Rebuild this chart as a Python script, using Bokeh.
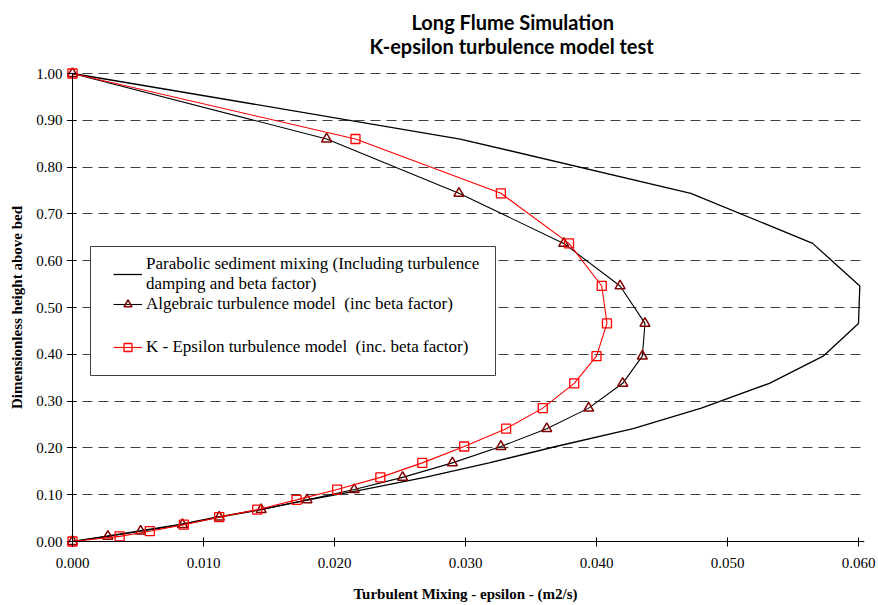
import numpy as np
from bokeh.plotting import figure
from bokeh.models import (Range1d, SingleIntervalTicker, NumeralTickFormatter,
                          Legend, LegendItem, BoxAnnotation, LinearAxis, Title)
from bokeh.embed import file_html
from bokeh.resources import INLINE

# ---------------- data ----------------
height_levels = [0.000, 0.011, 0.022, 0.036, 0.052, 0.068, 0.089, 0.111, 0.137, 0.168,
                 0.203, 0.241, 0.285, 0.338, 0.396, 0.466, 0.546, 0.637, 0.744, 0.860, 1.000]
parabolic_eps = [0.0000, 0.0025, 0.0050, 0.0081, 0.0110, 0.0143, 0.0180, 0.0222, 0.0269, 0.0318,
                 0.0369, 0.0428, 0.0480, 0.0532, 0.0573, 0.0600, 0.0601, 0.0565, 0.0472, 0.0296, 0.0000]
algebraic_eps = [0.0000, 0.0027, 0.0052, 0.0084, 0.0112, 0.0144, 0.0179, 0.0215, 0.0252, 0.0290,
                 0.0327, 0.0362, 0.0394, 0.0420, 0.0435, 0.0437, 0.0418, 0.0375, 0.0295, 0.0194, 0.0000]
kepsilon_eps = [0.0000, 0.0036, 0.0059, 0.0085, 0.0112, 0.0141, 0.0171, 0.0202, 0.0235, 0.0267,
                0.0299, 0.0331, 0.0359, 0.0383, 0.0400, 0.0408, 0.0404, 0.0379, 0.0327, 0.0216, 0.0000]

series_names = ["Parabolic sediment mixing (Including turbulence\ndamping and beta factor)",
                "Algebraic turbulence model  (inc beta factor)",
                "K - Epsilon turbulence model  (inc. beta factor)"]
title_lines = ["Long Flume Simulation", "K-epsilon turbulence model test"]
x_title = "Turbulent Mixing - epsilon - (m2/s)"
y_title = "Dimensionless height above bed"
x_max, y_max = 0.06, 1.0
x_step, y_step = 0.01, 0.1

# ---------------- layout ----------------
W, H = 878, 605
FL, FR, FT, FB = 66, 864, 67, 547          # frame edges (px)
X0, X1 = 72, 858                            # px of x=0 and x=x_max
Y1, Y0 = 73, 541                            # px of y=y_max and y=0
xs = x_max / (X1 - X0)
ys = y_max / (Y0 - Y1)
x_range = Range1d(-(X0 - FL) * xs, x_max + (FR - X1) * xs)
y_range = Range1d(-(FB - Y0) * ys, y_max + (Y1 - FT) * ys)

p = figure(width=W, height=H, x_range=x_range, y_range=y_range,
           output_backend="svg", toolbar_location=None,
           min_border_left=FL, min_border_right=W - FR,
           min_border_top=FT, min_border_bottom=H - FB)
p.outline_line_color = None
p.background_fill_color = "white"
p.border_fill_color = "white"

x_ticker = SingleIntervalTicker(interval=x_step, num_minor_ticks=0)
y_ticker = SingleIntervalTicker(interval=y_step, num_minor_ticks=0)

# axis lines + ticks crossing at zero
for ax in (p.xaxis, p.yaxis):
    ax.fixed_location = 0
    ax.axis_line_color = "black"
    ax.axis_line_width = 1
    ax.major_tick_line_color = "black"
    ax.major_tick_in = 4
    ax.major_tick_out = 5
    ax.minor_tick_line_color = None
    ax.major_label_text_font_size = "1px"
    ax.major_label_text_alpha = 0
    ax.major_label_standoff = 0
p.xaxis.ticker = x_ticker
p.yaxis.ticker = y_ticker
p.xaxis.bounds = (0, x_range.end)
p.yaxis.bounds = (0, y_max)

# axes carrying the tick labels and axis titles
lab_font = "Liberation Serif"
x_lab = LinearAxis(ticker=x_ticker, formatter=NumeralTickFormatter(format="0.000"),
                   axis_line_color=None, major_tick_line_color=None,
                   minor_tick_line_color=None, major_tick_in=0, major_tick_out=0,
                   major_label_standoff=10, major_label_text_font=lab_font,
                   major_label_text_font_size="15px", major_label_text_color="black",
                   axis_label=x_title, axis_label_standoff=15,
                   axis_label_text_font=lab_font, axis_label_text_font_style="bold",
                   axis_label_text_font_size="15px", axis_label_text_color="black")
y_lab = LinearAxis(ticker=y_ticker, formatter=NumeralTickFormatter(format="0.00"),
                   axis_line_color=None, major_tick_line_color=None,
                   minor_tick_line_color=None, major_tick_in=0, major_tick_out=0,
                   major_label_standoff=4, major_label_text_font=lab_font,
                   major_label_text_font_size="15px", major_label_text_color="black",
                   axis_label=y_title, axis_label_standoff=8,
                   axis_label_text_font=lab_font, axis_label_text_font_style="bold",
                   axis_label_text_font_size="15px", axis_label_text_color="black")
p.add_layout(x_lab, "below")
p.add_layout(y_lab, "left")

# grid
p.xgrid.visible = False
p.ygrid.grid_line_color = "#404040"
p.ygrid.grid_line_dash = "10 6"
p.ygrid.grid_line_width = 1

# titles (second line is nearest the frame)
t2 = Title(text=title_lines[1], align="left", offset=303, vertical_align="middle",
           standoff=18, text_font="Lato", text_font_style="bold",
           text_font_size="20px", text_color="black")
t1 = Title(text=title_lines[0], align="left", offset=345, vertical_align="middle",
           standoff=-22, text_font="Lato", text_font_style="bold",
           text_font_size="20px", text_color="black")
p.add_layout(t2, "above")
p.add_layout(t1, "above")

# series
r_par = p.line(parabolic_eps, height_levels, line_color="black", line_width=1.3)
r_alg_l = p.line(algebraic_eps, height_levels, line_color="black", line_width=1.1)
r_alg_m = p.scatter(algebraic_eps, height_levels, marker="triangle", size=10,
                    line_color="#800000", fill_color=None, line_width=1.5)
r_ke_l = p.line(kepsilon_eps, height_levels, line_color="#FF0000", line_width=1.1)
r_ke_m = p.scatter(kepsilon_eps, height_levels, marker="square", size=9,
                   line_color="#FF0000", fill_color=None, line_width=1.3)

# legend box
box = BoxAnnotation(left=90 - FL, right=495 - FL, top=FB - 246, bottom=FB - 375,
                    left_units="screen", right_units="screen",
                    top_units="screen", bottom_units="screen",
                    fill_color="white", fill_alpha=1.0,
                    line_color="#404040", line_width=1, line_alpha=1.0)
p.add_layout(box)

def make_legend(items, loc):
    return Legend(items=items, location=loc, orientation="vertical",
                  border_line_color=None, background_fill_alpha=0,
                  padding=0, margin=0, spacing=0, label_standoff=4,
                  glyph_width=29, glyph_height=20, label_height=20,
                  label_text_font=lab_font, label_text_font_size="17px",
                  label_text_color="black", label_text_line_height=1.2)

legA = make_legend([LegendItem(label=series_names[0], renderers=[r_par]),
                    LegendItem(label=series_names[1], renderers=[r_alg_l, r_alg_m])],
                   (113 - FL, FB - 314))
legB = make_legend([LegendItem(label=series_names[2], renderers=[r_ke_l, r_ke_m])],
                   (113 - FL, FB - 357))
p.add_layout(legA)
p.add_layout(legB)

open("out.html", "w").write(file_html(p, INLINE))
